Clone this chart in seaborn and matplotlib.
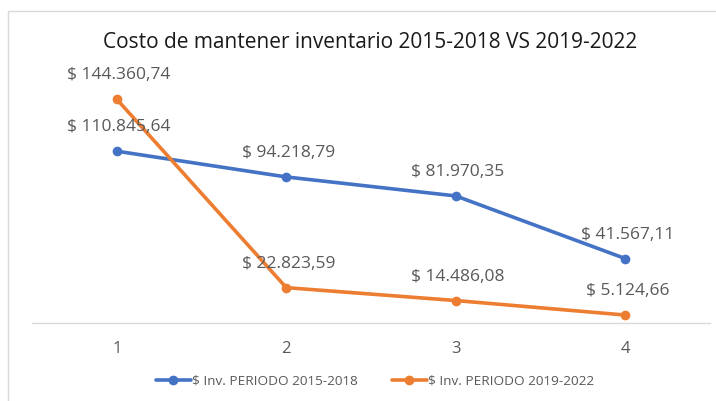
import pandas as pd
import seaborn as sns
import matplotlib.pyplot as plt
from matplotlib.patches import Rectangle

# data
periods = [1, 2, 3, 4]
serie_2015 = [110845.64, 94218.79, 81970.35, 41567.11]
serie_2019 = [144360.74, 22823.59, 14486.08, 5124.66]
etiquetas_2015 = ["$ 110.845,64", "$ 94.218,79", "$ 81.970,35", "$ 41.567,11"]
etiquetas_2019 = ["$ 144.360,74", "$ 22.823,59", "$ 14.486,08", "$ 5.124,66"]
nombres = ["$ Inv. PERIODO 2015-2018", "$ Inv. PERIODO 2019-2022"]

df = pd.DataFrame({
    "periodo": periods * 2,
    "valor": serie_2015 + serie_2019,
    "serie": [nombres[0]] * 4 + [nombres[1]] * 4,
})

sns.set_style("white")
plt.rcParams["font.family"] = ["Open Sans", "DejaVu Sans"]
gris = "#595959"
colores = ["#4472C4", "#ED7D31"]

fig = plt.figure(figsize=(7.16, 4.01), dpi=100)
ax = fig.add_axes([0.0447, 0.1945, 0.947, 0.6185])

# chart border
fig.patches.append(Rectangle((0.011, -0.1), 1.2, 0.1 + 0.9726, transform=fig.transFigure,
                             fill=False, edgecolor="#d9d9d9", linewidth=1.0))

sns.lineplot(data=df, x="periodo", y="valor", hue="serie", palette=colores, ax=ax,
             marker="o", markersize=7, markeredgewidth=0, linewidth=2.6, legend=False)

for i, p in enumerate(periods):
    ax.annotate(etiquetas_2015[i], (p, serie_2015[i]), xytext=(2, 24), textcoords="offset pixels",
                ha="center", va="center", fontsize=12.5, color=gris)
    ax.annotate(etiquetas_2019[i], (p, serie_2019[i]), xytext=(2, 24), textcoords="offset pixels",
                ha="center", va="center", fontsize=12.5, color=gris)

ax.set_xlim(0.5, 4.5)
ax.set_ylim(0, 160000)
ax.set_xticks(periods)
ax.set_xticklabels([str(p) for p in periods], fontsize=12, color=gris)
ax.set_yticks([])
ax.set_xlabel("")
ax.set_ylabel("")
ax.tick_params(axis="x", length=0, pad=13)
for s in ["top", "right", "left"]:
    ax.spines[s].set_visible(False)
ax.spines["bottom"].set_color("#d9d9d9")
ax.spines["bottom"].set_linewidth(1.0)

fig.text(0.517, 0.895, "Costo de mantener inventario 2015-2018 VS 2019-2022",
         ha="center", va="center", fontsize=15, color="#1a1a1a")

handles = [plt.Line2D([], [], color=c, marker="o", markersize=6, linewidth=2.6) for c in colores]
fig.legend(handles, nombres, loc="center", bbox_to_anchor=(0.524, 0.05), ncol=2, frameon=False,
           fontsize=9.7, labelcolor=gris, handlelength=2.6, handletextpad=0.1, columnspacing=2.5)

fig.savefig("out.png", dpi=100)
